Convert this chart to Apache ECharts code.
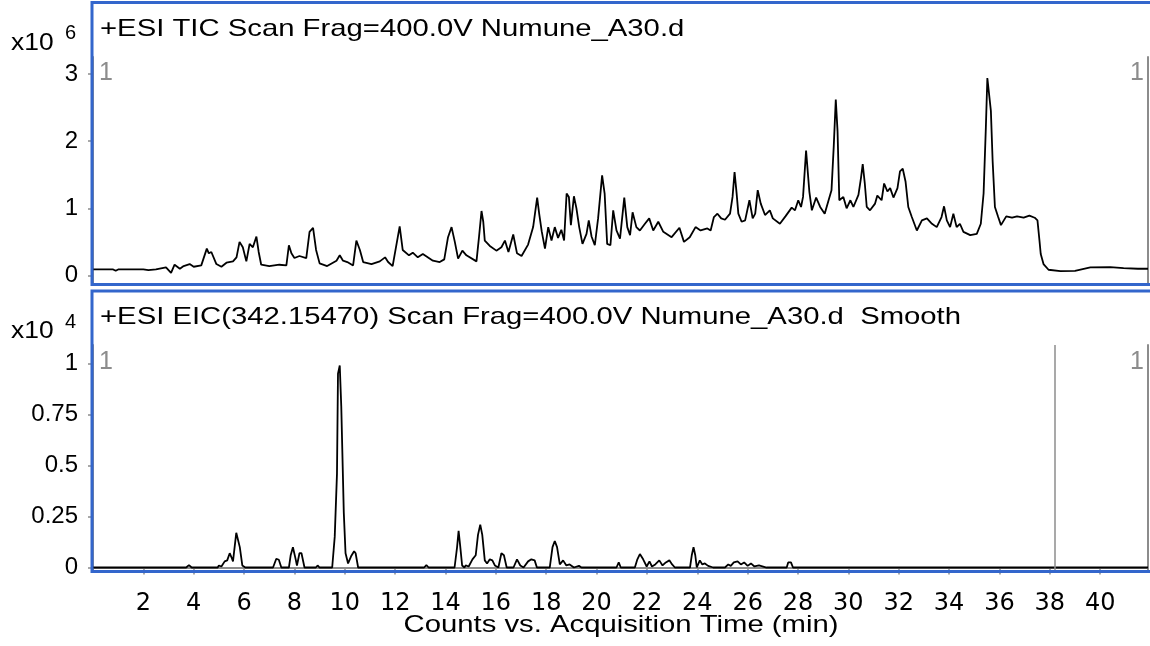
<!DOCTYPE html>
<html>
<head>
<meta charset="utf-8">
<title>TIC / EIC Numune_A30</title>
<script src="https://cdn.jsdelivr.net/npm/echarts@6/dist/echarts.min.js"></script>
<style>
  html, body { margin: 0; padding: 0; background: #fff; }
  #chromatogram { width: 1150px; height: 646px; }
</style>
</head>
<body>
<div id="chromatogram"></div>
<script>
// TIC trace, time (min) and counts in units of 1e6
const ticTime = [0.0, 0.8, 0.9, 1.0, 2.0, 2.2, 2.5, 2.9, 3.1, 3.24, 3.45, 3.6, 3.84, 4.0, 4.3, 4.52, 4.6, 4.7, 4.9, 5.1,
  5.3, 5.56, 5.7, 5.82, 5.95, 6.09, 6.22, 6.35, 6.49, 6.58, 6.68, 7.0, 7.4, 7.68, 7.78, 7.88, 8.0, 8.2, 8.47, 8.6,
  8.74, 8.86, 9.0, 9.3, 9.67, 9.8, 9.93, 10.1, 10.33, 10.46, 10.6, 10.73, 11.06, 11.39, 11.6, 11.72, 11.9, 12.18, 12.3, 12.55,
  12.7, 12.9, 13.1, 13.5, 13.77, 13.95, 14.1, 14.24, 14.37, 14.5, 14.67, 14.83, 15.23, 15.33, 15.43, 15.5, 15.56, 15.76, 16.02, 16.22,
  16.36, 16.5, 16.69, 16.84, 17.02, 17.28, 17.48, 17.64, 17.72, 17.82, 17.95, 18.08, 18.21, 18.34, 18.47, 18.6, 18.71, 18.81, 18.9, 18.98,
  19.1, 19.2, 19.31, 19.44, 19.6, 19.69, 19.8, 19.93, 20.06, 20.22, 20.32, 20.42, 20.55, 20.66, 20.79, 20.93, 21.1, 21.22, 21.33, 21.43,
  21.58, 21.72, 21.92, 22.09, 22.25, 22.45, 22.65, 22.98, 23.29, 23.47, 23.7, 23.93, 24.13, 24.4, 24.53, 24.66, 24.8, 24.95, 25.1, 25.3,
  25.4, 25.48, 25.56, 25.63, 25.76, 25.9, 26.07, 26.2, 26.3, 26.4, 26.52, 26.69, 26.88, 27.0, 27.28, 27.5, 27.75, 27.88, 28.01, 28.12,
  28.2, 28.32, 28.38, 28.45, 28.55, 28.72, 28.88, 29.06, 29.2, 29.33, 29.42, 29.5, 29.57, 29.64, 29.8, 29.93, 30.08, 30.2, 30.4, 30.5,
  30.57, 30.65, 30.73, 30.86, 31.06, 31.15, 31.32, 31.42, 31.55, 31.66, 31.79, 31.95, 32.05, 32.16, 32.27, 32.38, 32.52, 32.72, 32.92, 33.12,
  33.32, 33.51, 33.7, 33.8, 33.91, 34.04, 34.17, 34.3, 34.43, 34.57, 34.84, 35.1, 35.26, 35.37, 35.46, 35.52, 35.59, 35.66, 35.73, 35.82,
  35.95, 36.06, 36.27, 36.5, 36.7, 36.96, 37.19, 37.4, 37.51, 37.59, 37.64, 37.75, 37.95, 38.42, 39.0, 39.61, 40.4, 40.93, 41.5, 41.9];
const ticCounts = [0.09, 0.09, 0.07, 0.09, 0.09, 0.08, 0.09, 0.12, 0.04, 0.16, 0.10, 0.14, 0.17, 0.13, 0.15, 0.40, 0.33, 0.35, 0.17, 0.13,
  0.19, 0.21, 0.27, 0.50, 0.42, 0.21, 0.47, 0.42, 0.58, 0.35, 0.16, 0.14, 0.16, 0.15, 0.45, 0.33, 0.26, 0.29, 0.26, 0.65,
  0.71, 0.38, 0.18, 0.14, 0.22, 0.30, 0.22, 0.20, 0.15, 0.52, 0.38, 0.20, 0.17, 0.21, 0.27, 0.20, 0.14, 0.73, 0.38, 0.30,
  0.34, 0.27, 0.32, 0.22, 0.20, 0.24, 0.57, 0.72, 0.50, 0.25, 0.37, 0.30, 0.21, 0.57, 0.96, 0.80, 0.52, 0.44, 0.37, 0.42,
  0.52, 0.35, 0.61, 0.33, 0.29, 0.46, 0.72, 1.16, 0.92, 0.66, 0.40, 0.72, 0.52, 0.72, 0.56, 0.68, 0.52, 1.22, 1.17, 0.75,
  1.18, 1.00, 0.72, 0.47, 0.62, 0.82, 0.58, 0.45, 0.85, 1.49, 1.22, 0.47, 0.45, 0.97, 0.67, 0.55, 1.16, 0.72, 0.60, 0.94,
  0.72, 0.67, 0.77, 0.85, 0.67, 0.80, 0.65, 0.57, 0.71, 0.50, 0.57, 0.72, 0.67, 0.70, 0.67, 0.87, 0.92, 0.85, 0.83, 0.92,
  1.17, 1.54, 1.23, 0.92, 0.80, 0.82, 1.12, 0.85, 0.92, 1.27, 1.07, 0.90, 0.97, 0.85, 0.77, 0.88, 1.01, 0.97, 1.12, 1.02,
  1.17, 1.86, 1.84, 1.25, 0.97, 1.16, 1.02, 0.92, 1.10, 1.27, 1.93, 2.62, 2.15, 1.12, 1.17, 1.00, 1.12, 1.02, 1.20, 1.45,
  1.66, 1.38, 1.02, 0.97, 1.07, 1.19, 1.12, 1.37, 1.25, 1.30, 1.16, 1.30, 1.55, 1.59, 1.40, 1.02, 0.87, 0.67, 0.82, 0.85,
  0.77, 0.72, 0.87, 1.03, 0.82, 0.72, 0.92, 0.72, 0.77, 0.65, 0.60, 0.62, 0.77, 1.22, 2.20, 2.94, 2.96, 2.45, 1.70, 1.02,
  0.87, 0.75, 0.88, 0.86, 0.88, 0.86, 0.89, 0.86, 0.82, 0.52, 0.32, 0.17, 0.085, 0.065, 0.07, 0.12, 0.125, 0.11, 0.10, 0.10];

// EIC 342.15470 trace (smoothed), counts in units of 1e4
const eicTime = [0, 3.7, 3.81, 3.92, 4.95, 5.0, 5.1, 5.23, 5.33, 5.43, 5.5, 5.56, 5.69, 5.75, 5.83, 5.93, 6.05, 7.15, 7.28, 7.38,
  7.48, 7.78, 7.85, 7.94, 8.05, 8.1, 8.2, 8.28, 8.4, 8.85, 8.92, 9.0, 9.5, 9.6, 9.69, 9.73, 9.8, 9.86, 9.96, 10.03,
  10.13, 10.25, 10.37, 10.43, 10.53, 13.15, 13.24, 13.33, 14.36, 14.46, 14.52, 14.58, 14.66, 14.75, 14.8, 14.92, 15.07, 15.2, 15.29, 15.38,
  15.46, 15.56, 15.65, 15.76, 15.86, 15.96, 16.1, 16.22, 16.32, 16.43, 16.7, 16.84, 16.97, 17.1, 17.28, 17.41, 17.54, 17.63, 18.14, 18.25,
  18.34, 18.43, 18.54, 18.67, 18.8, 18.93, 19.1, 19.3, 19.4, 20.79, 20.88, 20.96, 21.52, 21.62, 21.72, 21.85, 21.99, 22.1, 22.2, 22.33,
  22.49, 22.62, 22.75, 22.89, 23.0, 23.11, 23.71, 23.78, 23.85, 23.92, 23.98, 24.1, 24.2, 24.3, 24.43, 24.63, 25.1, 25.23, 25.33, 25.45,
  25.6, 25.73, 25.86, 26.0, 26.13, 26.27, 26.45, 26.75, 27.55, 27.61, 27.72, 27.8, 41.9];
const eicCounts = [0, 0, 0.012, 0, 0, 0.01, 0.005, 0.03, 0.035, 0.07, 0.05, 0.03, 0.17, 0.165, 0.10, 0.01, 0, 0, 0.043, 0.038,
  0, 0, 0.06, 0.099, 0.04, 0.01, 0.07, 0.07, 0, 0, 0.01, 0, 0, 0.15, 0.46, 0.95, 0.99, 0.79, 0.27, 0.07,
  0.02, 0.055, 0.08, 0.07, 0, 0, 0.012, 0, 0, 0.10, 0.18, 0.11, 0.01, 0, 0.01, 0.005, 0.04, 0.06, 0.16, 0.21,
  0.16, 0.035, 0.02, 0.04, 0.035, 0.01, 0, 0.07, 0.06, 0, 0, 0.04, 0.01, 0, 0.03, 0.04, 0.035, 0, 0, 0.10,
  0.13, 0.10, 0.015, 0.035, 0.01, 0.015, 0, 0.008, 0, 0, 0.025, 0, 0, 0.04, 0.066, 0.04, 0.005, 0.03, 0.005, 0.015,
  0.035, 0.01, 0.025, 0.035, 0.015, 0, 0, 0.06, 0.10, 0.06, 0, 0.035, 0.015, 0.02, 0.008, 0, 0, 0.015, 0.008, 0.025,
  0.03, 0.015, 0.025, 0.008, 0.02, 0.005, 0.01, 0, 0, 0.025, 0.025, 0, 0];

// axis ticks
const timeTicks = [2, 4, 6, 8, 10, 12, 14, 16, 18, 20, 22, 24, 26, 28, 30, 32, 34, 36, 38, 40];
const ticTicks = [0, 1, 2, 3];
const eicTicks = [0, 0.25, 0.5, 0.75, 1];
const markerTime = 38.2;

const FONT = "'Liberation Sans', Arial, Helvetica, sans-serif";
const WIDE_FONT = "'DejaVu Sans', 'Liberation Sans', sans-serif";
const BLUE = "#3366cc";
const GRAY = "#8c8c8c";
// the instrument font runs wider than Arial, stretch free text to suit
const STRETCH = 1.22;

function pairs(xs, ys) {
  return xs.map(function (x, i) { return [x, ys[i]]; });
}

function valueAxis(gridIndex, min, max, ticks) {
  return {
    type: "value",
    gridIndex: gridIndex,
    min: min,
    max: max,
    offset: 4,
    axisLine: { show: true, lineStyle: { color: GRAY, width: 2 } },
    axisTick: { show: true, length: 5, customValues: ticks, lineStyle: { color: GRAY, width: 1.5 } },
    axisLabel: { customValues: ticks, fontSize: 24, color: "#000", fontFamily: FONT, margin: 11 },
    splitLine: { show: false }
  };
}

function rightAxis(gridIndex, min, max) {
  return {
    type: "value",
    gridIndex: gridIndex,
    position: "right",
    min: min,
    max: max,
    axisLine: { show: true, lineStyle: { color: GRAY, width: 2 } },
    axisTick: { show: false },
    axisLabel: { show: false },
    splitLine: { show: false }
  };
}

function label(text, x, y, size, opts) {
  opts = opts || {};
  return {
    type: "text",
    x: x,
    y: y,
    scaleX: opts.scaleX || 1,
    z: 20,
    style: {
      text: text,
      fontSize: size,
      fontFamily: FONT,
      fill: opts.color || "#000",
      align: opts.align || "left",
      verticalAlign: "middle"
    }
  };
}

const chart = echarts.init(document.getElementById("chromatogram"));

const option = {
  animation: false,
  backgroundColor: "#fff",
  grid: [
    { left: 93, right: 2, top: 57, height: 226 },
    { left: 93, right: 2, top: 345, height: 227 }
  ],
  xAxis: [
    { type: "value", gridIndex: 0, min: 0, max: 41.9, show: false },
    {
      type: "value",
      gridIndex: 1,
      min: 0,
      max: 41.9,
      position: "bottom",
      offset: 3,
      axisLine: { show: true, lineStyle: { color: GRAY, width: 2 } },
      axisTick: { show: true, length: 7, customValues: timeTicks, lineStyle: { color: GRAY, width: 1.5 } },
      axisLabel: { customValues: timeTicks, fontSize: 24, color: "#000", fontFamily: WIDE_FONT, margin: 17 },
      splitLine: { show: false }
    }
  ],
  yAxis: [
    valueAxis(0, -0.112, 3.253, ticTicks),
    valueAxis(1, -0.022, 1.09, eicTicks),
    rightAxis(0, -0.112, 3.253),
    rightAxis(1, -0.022, 1.09)
  ],
  series: [
    {
      name: "TIC",
      type: "line",
      xAxisIndex: 0,
      yAxisIndex: 0,
      data: pairs(ticTime, ticCounts),
      showSymbol: false,
      lineStyle: { color: "#000", width: 1.8 },
      silent: true
    },
    {
      name: "EIC(342.15470)",
      type: "line",
      xAxisIndex: 1,
      yAxisIndex: 1,
      data: pairs(eicTime, eicCounts),
      showSymbol: false,
      lineStyle: { color: "#000", width: 1.8 },
      silent: true,
      markLine: {
        silent: true,
        symbol: "none",
        label: { show: false },
        lineStyle: { color: GRAY, width: 1.5, type: "solid" },
        data: [{ xAxis: markerTime }]
      }
    }
  ],
  graphic: [
    // blue panel frames
    { type: "rect", shape: { x: 92, y: 2.5, width: 1100, height: 282 }, style: { fill: null, stroke: BLUE, lineWidth: 3 }, z: 10 },
    { type: "rect", shape: { x: 92, y: 291, width: 1100, height: 280.5 }, style: { fill: null, stroke: BLUE, lineWidth: 3 }, z: 10 },
    // panel titles
    label("+ESI TIC Scan Frag=400.0V Numune_A30.d", 100, 29, 24, { scaleX: STRETCH }),
    label("+ESI EIC(342.15470) Scan Frag=400.0V Numune_A30.d  Smooth", 100, 317, 24, { scaleX: STRETCH }),
    // axis title
    label("Counts vs. Acquisition Time (min)", 621, 625, 24, { scaleX: STRETCH, align: "center" }),
    // scale exponents
    label("x10", 11, 43, 24, { scaleX: 1.1 }),
    label("6", 65, 33, 20),
    label("x10", 11, 331, 24, { scaleX: 1.1 }),
    label("4", 65, 322, 20),
    // gray "1" markers
    label("1", 99, 73, 25, { color: GRAY }),
    label("1", 1130, 73, 25, { color: GRAY }),
    label("1", 99, 362, 25, { color: GRAY }),
    label("1", 1130, 362, 25, { color: GRAY })
  ]
};

chart.setOption(option);
</script>
</body>
</html>
